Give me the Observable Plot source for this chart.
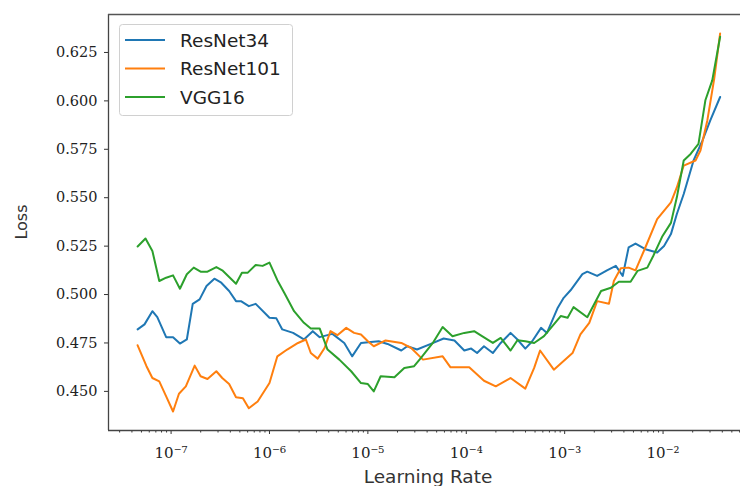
<!DOCTYPE html>
<html><head><meta charset="utf-8">
<script src="https://cdn.jsdelivr.net/npm/d3@7"></script>
<script src="https://cdn.jsdelivr.net/npm/@observablehq/plot@0.6"></script>
<style>html,body{margin:0;padding:0;background:#fff;overflow:hidden}</style>
</head><body><div id="chart"></div>
<script>
const seriesNames = ["ResNet34", "ResNet101", "VGG16"];
const seriesColors = ["#1f77b4", "#ff7f0e", "#2ca02c"];

// log10(learning rate) and loss
const resnet34LogLR = [-7.34,-7.27,-7.19,-7.14,-7.05,-6.98,-6.91,-6.84,-6.78,-6.71,-6.64,-6.56,-6.49,-6.41,-6.34,-6.29,-6.21,-6.14,-6.00,-5.93,-5.87,-5.76,-5.65,-5.56,-5.49,-5.36,-5.24,-5.16,-5.07,-4.97,-4.89,-4.80,-4.66,-4.60,-4.50,-4.36,-4.23,-4.12,-4.02,-3.95,-3.89,-3.82,-3.73,-3.65,-3.55,-3.48,-3.40,-3.33,-3.24,-3.18,-3.07,-3.01,-2.94,-2.82,-2.77,-2.67,-2.57,-2.48,-2.41,-2.35,-2.28,-2.18,-2.06,-1.99,-1.92,-1.86,-1.79,-1.69,-1.60,-1.52,-1.42];
const resnet34Loss = [0.482,0.4846,0.4914,0.4883,0.478,0.478,0.4747,0.4768,0.4952,0.4975,0.5044,0.5082,0.5061,0.5018,0.4966,0.4966,0.494,0.4952,0.488,0.4877,0.482,0.4802,0.4768,0.4811,0.478,0.4797,0.475,0.4681,0.475,0.4755,0.4759,0.4745,0.4711,0.4733,0.4716,0.4745,0.4773,0.4763,0.4711,0.4721,0.4698,0.4733,0.4698,0.475,0.4802,0.4768,0.4721,0.4759,0.4828,0.4802,0.4932,0.4983,0.5022,0.5105,0.5118,0.5096,0.5125,0.5148,0.5096,0.5243,0.5263,0.5234,0.5217,0.5251,0.5312,0.5416,0.5519,0.5692,0.5795,0.5899,0.602];

const resnet101LogLR = [-7.34,-7.25,-7.19,-7.12,-7.05,-6.98,-6.92,-6.85,-6.76,-6.70,-6.63,-6.54,-6.48,-6.41,-6.34,-6.27,-6.21,-6.12,-6.00,-5.92,-5.82,-5.71,-5.63,-5.58,-5.51,-5.44,-5.38,-5.31,-5.22,-5.14,-5.07,-5.00,-4.94,-4.82,-4.66,-4.56,-4.44,-4.24,-4.16,-3.97,-3.82,-3.70,-3.55,-3.40,-3.31,-3.25,-3.11,-2.92,-2.84,-2.75,-2.67,-2.55,-2.50,-2.43,-2.35,-2.28,-2.18,-2.06,-1.92,-1.86,-1.79,-1.67,-1.62,-1.55,-1.48,-1.42];
const resnet101Loss = [0.4738,0.463,0.4569,0.4552,0.4474,0.4396,0.4488,0.4526,0.4633,0.4578,0.4564,0.4604,0.4569,0.4538,0.447,0.4465,0.4413,0.4448,0.4543,0.4681,0.4716,0.475,0.4768,0.4698,0.4669,0.4724,0.4811,0.479,0.4828,0.4802,0.4794,0.4759,0.4733,0.4763,0.475,0.4724,0.4664,0.4681,0.4624,0.4624,0.4555,0.4526,0.4569,0.4514,0.4621,0.4711,0.4612,0.4698,0.4794,0.4854,0.4966,0.4952,0.507,0.5136,0.5139,0.5125,0.5243,0.539,0.5476,0.5553,0.5666,0.5692,0.5744,0.5899,0.6115,0.6348];

const vgg16LogLR = [-7.34,-7.26,-7.19,-7.12,-7.05,-6.98,-6.91,-6.84,-6.77,-6.70,-6.63,-6.54,-6.48,-6.41,-6.34,-6.28,-6.22,-6.14,-6.07,-6.00,-5.92,-5.85,-5.75,-5.65,-5.58,-5.49,-5.41,-5.29,-5.17,-5.07,-5.00,-4.94,-4.87,-4.73,-4.63,-4.53,-4.46,-4.34,-4.24,-4.14,-4.02,-3.92,-3.84,-3.73,-3.65,-3.55,-3.48,-3.40,-3.31,-3.21,-3.11,-3.04,-2.97,-2.91,-2.77,-2.63,-2.53,-2.45,-2.33,-2.26,-2.16,-2.10,-2.01,-1.92,-1.86,-1.79,-1.72,-1.64,-1.57,-1.50,-1.42];
const vgg16Loss = [0.5248,0.5289,0.5225,0.507,0.5087,0.5099,0.503,0.5105,0.5139,0.5118,0.5118,0.5142,0.5125,0.5091,0.5056,0.5113,0.5113,0.5153,0.5148,0.5165,0.5074,0.5009,0.4914,0.4854,0.4825,0.4825,0.4716,0.4664,0.4604,0.4543,0.4538,0.45,0.4578,0.4573,0.4621,0.463,0.4673,0.475,0.4832,0.4785,0.4802,0.4811,0.4785,0.475,0.4776,0.4711,0.4764,0.4759,0.475,0.4785,0.4846,0.4889,0.488,0.4935,0.4883,0.5018,0.5035,0.5066,0.5066,0.5122,0.5139,0.5199,0.5298,0.537,0.5502,0.5692,0.5726,0.5778,0.6003,0.6106,0.6331];

const xMajorTicks = [1e-7, 1e-6, 1e-5, 1e-4, 1e-3, 1e-2];
const xMinorMultipliers = [2, 3, 4, 5, 6, 7, 8, 9];
const yTicks = [0.450, 0.475, 0.500, 0.525, 0.550, 0.575, 0.600, 0.625];
const xLabel = "Learning Rate";
const yLabel = "Loss";

const logs = [resnet34LogLR, resnet101LogLR, vgg16LogLR];
const losses = [resnet34Loss, resnet101Loss, vgg16Loss];
const rows = [];
seriesNames.forEach((name, i) => {
  logs[i].forEach((e, j) => rows.push({series: name, lr: Math.pow(10, e), loss: losses[i][j]}));
});

const xDomain = [Math.pow(10, -7.636), Math.pow(10, -1.213)];
const yDomain = [0.4298, 0.6446];
const minorTicks = [];
[1e-8, ...xMajorTicks].forEach(b => xMinorMultipliers.forEach(m => {
  const v = b * m;
  if (v >= xDomain[0] && v <= xDomain[1]) minorTicks.push(v);
}));

const sup = {"-": "\u207B", "0": "\u2070", "1": "\u00B9", "2": "\u00B2", "3": "\u00B3", "4": "\u2074", "5": "\u2075", "6": "\u2076", "7": "\u2077", "8": "\u2078", "9": "\u2079"};
const fmtPow = v => "10" + String(Math.round(Math.log10(v))).split("").map(c => sup[c]).join("");

const chart = Plot.plot({
  width: 740, height: 486,
  marginLeft: 108, marginRight: 0, marginTop: 14, marginBottom: 56,
  style: {background: "#fff", color: "#222", overflow: "visible"},
  x: {type: "log", domain: xDomain},
  y: {domain: yDomain},
  color: {domain: seriesNames, range: seriesColors},
  marks: [
    Plot.axisX({ticks: minorTicks, tickSize: 2.5, tickFormat: () => "", label: null, stroke: "#333"}),
    Plot.axisX({ticks: xMajorTicks, tickSize: 4, tickPadding: 13, tickFormat: fmtPow, label: null,
      fontFamily: "DejaVu Serif", fontSize: 15, stroke: "#333", fill: "#222"}),
    Plot.axisY({ticks: yTicks, tickSize: 4, tickPadding: 7, tickFormat: d3.format(".3f"), label: null,
      fontFamily: "DejaVu Serif", fontSize: 14.5, stroke: "#333", fill: "#222"}),
    Plot.line(rows, {x: "lr", y: "loss", z: "series", stroke: "series", strokeWidth: 2, strokeLinejoin: "round"}),
    Plot.ruleX([xDomain[0]], {stroke: "#444", strokeWidth: 1.3}),
    Plot.ruleY([yDomain[0]], {stroke: "#444", strokeWidth: 1.3}),
    Plot.ruleY([yDomain[1]], {stroke: "#555", strokeWidth: 1.3})
  ]
});

const svg = d3.select(chart);
svg.append("text").attr("x", 428).attr("y", 483).attr("text-anchor", "middle")
  .attr("font-family", "DejaVu Sans").attr("font-size", 18.5).attr("fill", "#333").text(xLabel);
svg.append("text").attr("transform", "translate(27,222) rotate(-90)").attr("text-anchor", "middle")
  .attr("font-family", "DejaVu Sans").attr("font-size", 16).attr("fill", "#333").text(yLabel);

const lg = svg.append("g");
lg.append("rect").attr("x", 119.5).attr("y", 24.5).attr("width", 173).attr("height", 91).attr("rx", 3)
  .attr("fill", "rgba(255,255,255,0.85)").attr("stroke", "#d0d0d0");
seriesNames.forEach((n, i) => {
  const y = 40 + i * 28.5;
  lg.append("line").attr("x1", 125).attr("x2", 165).attr("y1", y).attr("y2", y)
    .attr("stroke", seriesColors[i]).attr("stroke-width", 2.2);
  lg.append("text").attr("x", 180).attr("y", y).attr("dy", "0.36em").attr("text-anchor", "start")
    .attr("font-family", "DejaVu Sans").attr("font-size", 18.5).attr("fill", "#222").text(n);
});

document.getElementById("chart").appendChild(chart);
</script>
</body></html>
